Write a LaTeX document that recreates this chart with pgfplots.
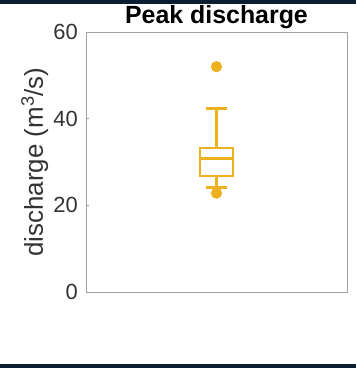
\documentclass[border=0pt]{standalone}
\usepackage{fontspec}
\setmainfont{Liberation Sans}
\usepackage{pgfplots}
\pgfplotsset{compat=1.18}
\usepgfplotslibrary{statistics}
\definecolor{mlyellow}{HTML}{EDB120}
\definecolor{navyband}{HTML}{0A1E33}
\definecolor{axgray}{HTML}{A0A0A0}
\definecolor{tickgray}{HTML}{333333}
\begin{document}
\begin{tikzpicture}[x=1bp,y=1bp]
\useasboundingbox (0,0) rectangle (356,368);
\fill[white] (0,0) rectangle (356,368);
\fill[navyband] (0,364) rectangle (356,368);
\fill[navyband] (0,0) rectangle (356,4);
\begin{axis}[
  at={(86bp,76bp)}, anchor=south west,
  scale only axis, width=261bp, height=260bp,
  xmin=-1, xmax=1, ymin=0, ymax=60,
  xtick=\empty,
  ytick={0,20,40,60},
  ytick pos=left,
  tick align=inside,
  major tick length=2.5bp,
  axis line style={axgray, line width=0.8bp},
  every tick/.style={axgray, line width=0.6bp},
  /pgf/number format/assume math mode=true,
  yticklabel style={font=\fontsize{22}{26}\selectfont, text=tickgray, inner sep=0pt, xshift=-8bp},
  ylabel={discharge (m\textsuperscript{3}/s)},
  ylabel style={font=\fontsize{26}{30}\selectfont, text=tickgray, inner sep=0pt, at={(axis description cs:-0.1648,0.5)}, anchor=base, rotate=0},
  title={\textbf{Peak discharge}},
  title style={font=\fontsize{25}{30}\selectfont, inner sep=0pt, at={(axis description cs:0.5,1)}, anchor=base, yshift=3bp},
  boxplot/draw direction=y,
  boxplot/every box/.style={/tikz/draw=mlyellow, /tikz/line width=2.6bp},
  boxplot/every median/.style={/tikz/draw=mlyellow, /tikz/line width=2.6bp},
  boxplot/every whisker/.style={/tikz/draw=mlyellow, /tikz/line width=2.6bp},
]
\addplot[mlyellow, solid, line width=2.6bp,
  mark=*, mark size=4.2bp, mark options={fill=mlyellow, draw=none},
  boxplot prepared={
    median=30.8, upper quartile=33.2, lower quartile=26.8,
    upper whisker=42.3, lower whisker=24.1,
    draw position=0, box extend=0.253, whisker extend=0.16
  }] table[row sep=\\, y index=0] {52.0\\ 22.8\\};
\end{axis}
\end{tikzpicture}
\end{document}
